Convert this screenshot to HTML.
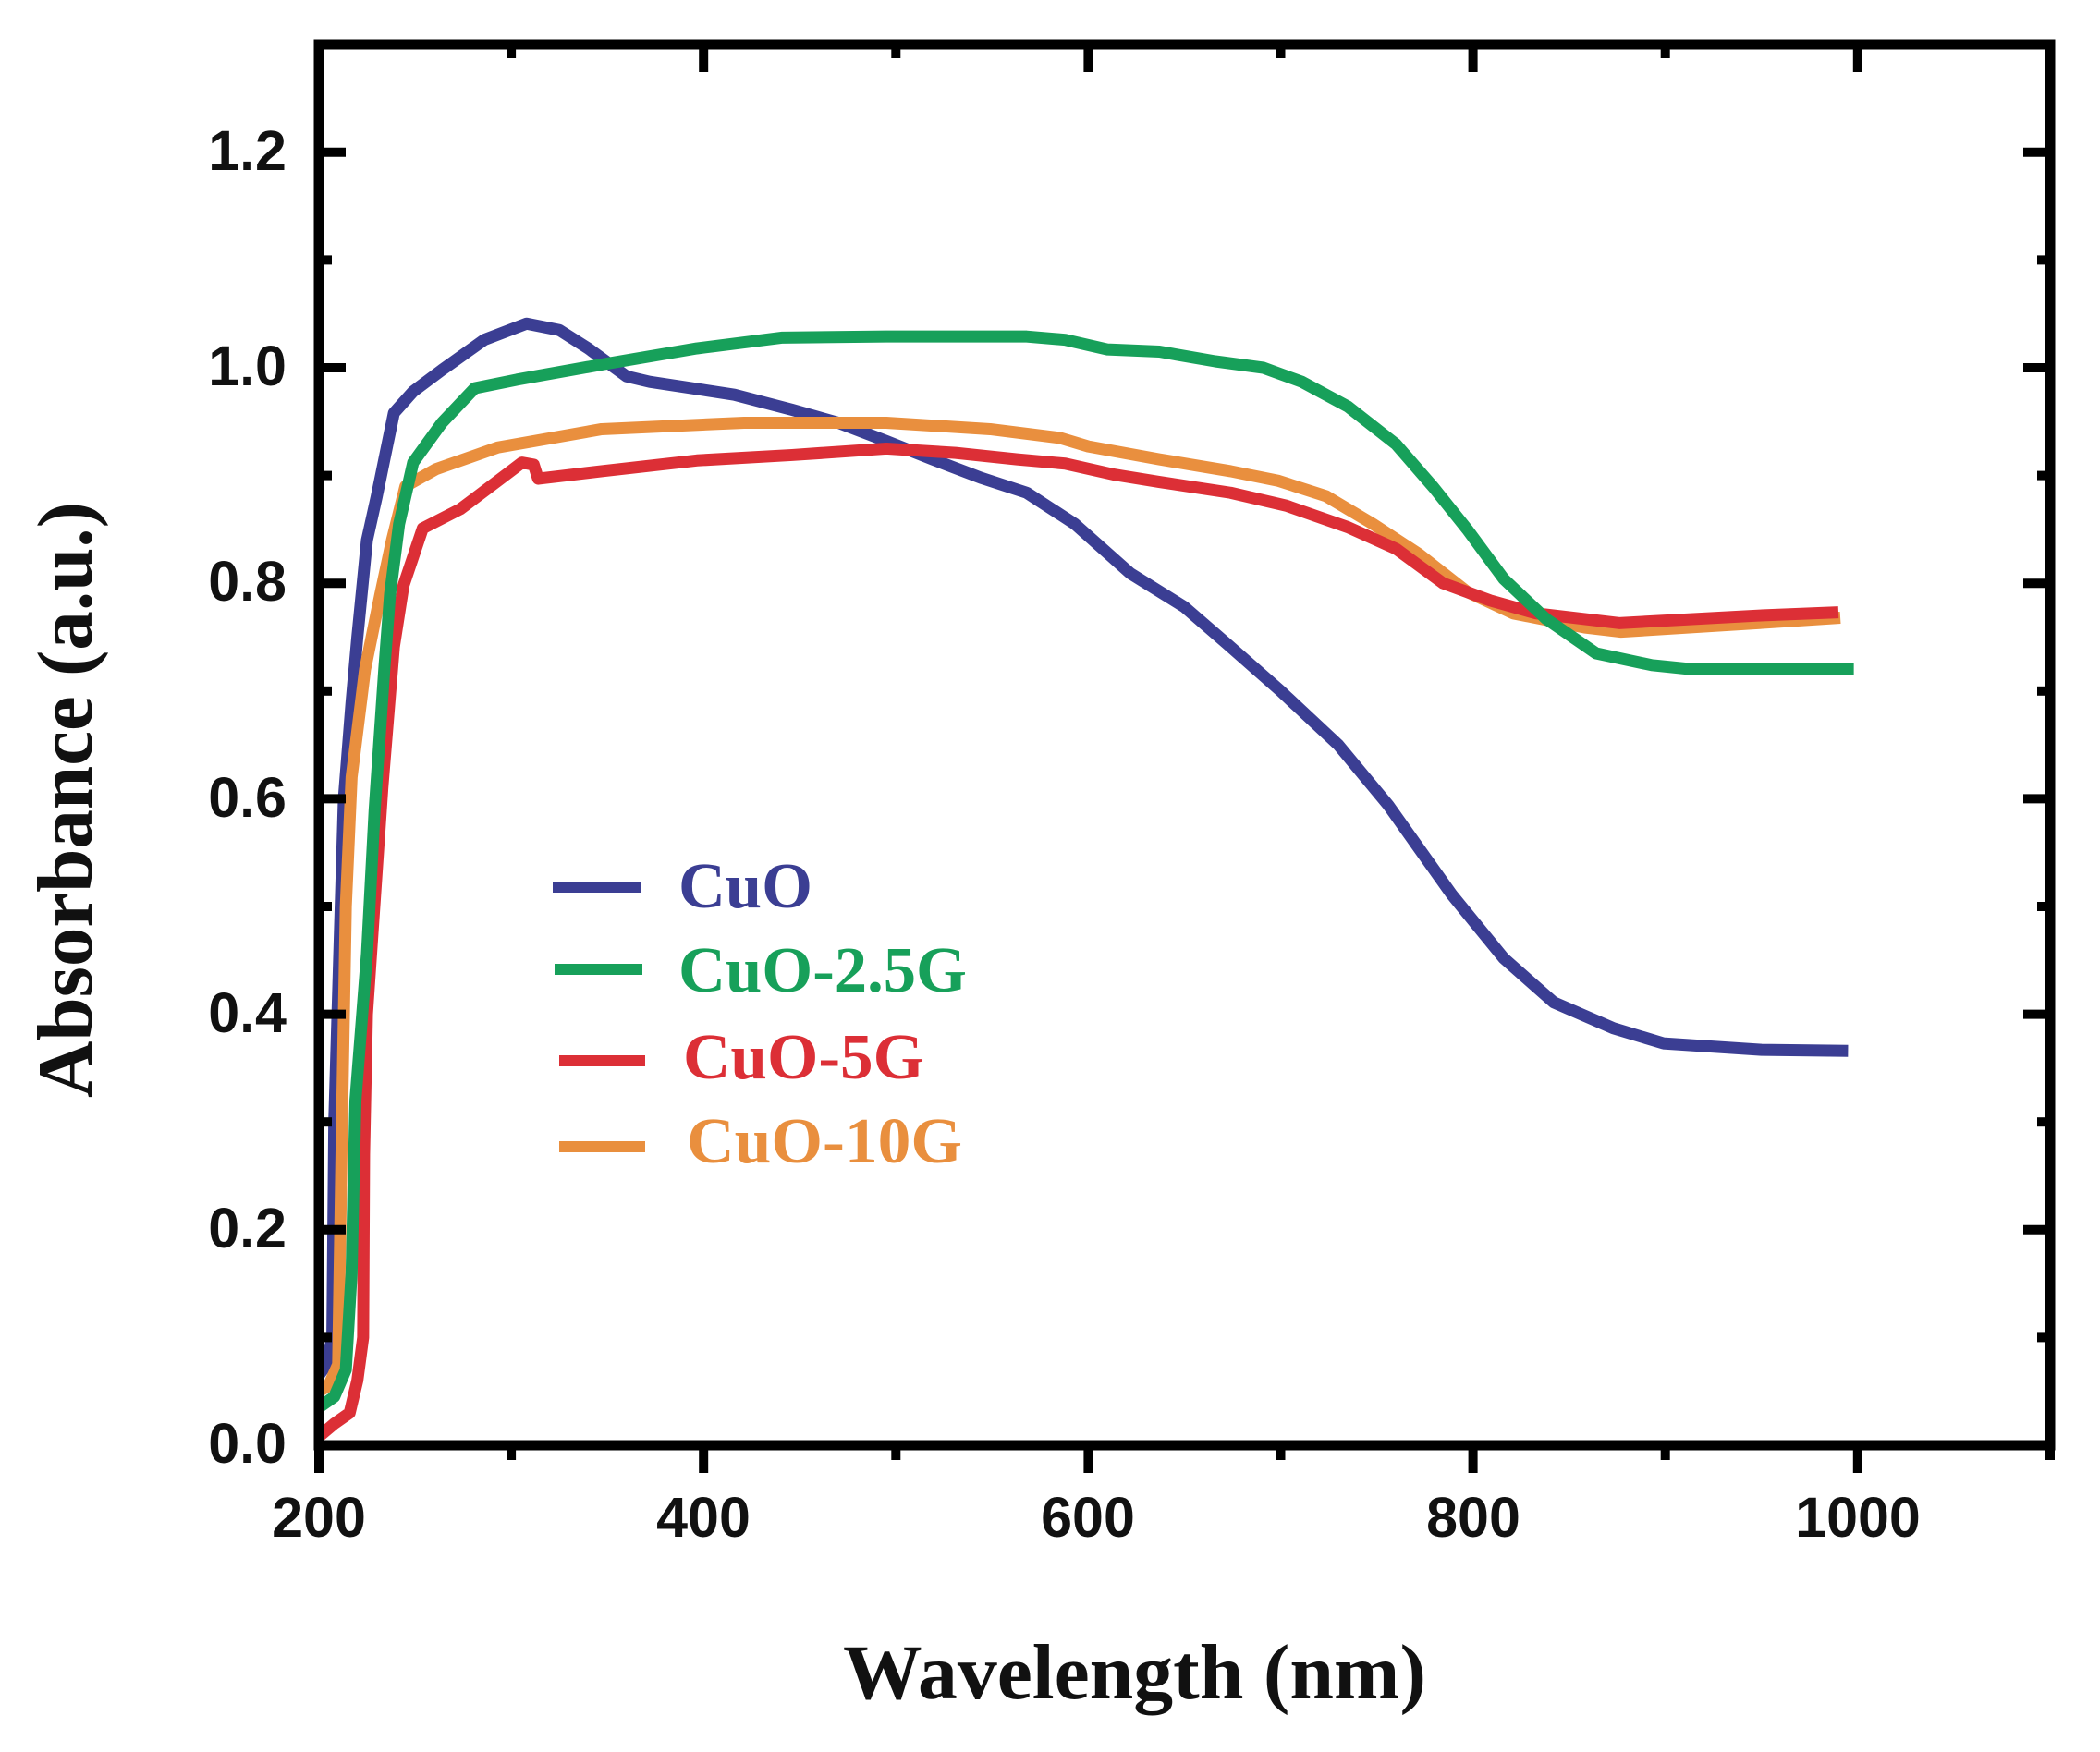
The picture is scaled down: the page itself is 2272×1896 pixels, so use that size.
<!DOCTYPE html>
<html>
<head>
<meta charset="utf-8">
<style>
  html, body { margin: 0; padding: 0; background: #ffffff; }
  svg { display: block; }
  .tl { font-family: "Liberation Sans", Arial, sans-serif; font-weight: bold; font-size: 61px; fill: #111; }
  .title { font-family: "Liberation Serif", "Times New Roman", serif; font-weight: bold; font-size: 85px; fill: #111; }
  .leg { font-family: "Liberation Serif", "Times New Roman", serif; font-weight: bold; font-size: 70px; }
</style>
</head>
<body>
<svg width="2272" height="1896" viewBox="0 0 2272 1896" xmlns="http://www.w3.org/2000/svg">
  <rect x="0" y="0" width="2272" height="1896" fill="#ffffff"/>

  <g transform="matrix(2.081 0 0 -1166 -71.2 1564)" fill="none" stroke-linejoin="round" stroke-linecap="butt">
    <polyline vector-effect="non-scaling-stroke" stroke="#3b3e93" stroke-width="13"
      points="200,0.065 204,0.075 207,0.1 208,0.3 210.5,0.45 213,0.6 217,0.69 220,0.75 225,0.84 230,0.88 239,0.958 249,0.978 264,0.998 286,1.026 308,1.041 325,1.035 340,1.018 360,0.992 372,0.987 416,0.975 446,0.961 470,0.949 495,0.932 519,0.915 544,0.898 568,0.884 593,0.855 622,0.809 650,0.778 672,0.744 700,0.70 730,0.65 756,0.594 789,0.511 816,0.452 842,0.411 873,0.387 899,0.373 950,0.367 995,0.366"/>
    <polyline vector-effect="non-scaling-stroke" stroke="#e98f3e" stroke-width="13"
      points="200,0.05 205,0.055 210,0.075 212,0.3 214,0.5 217,0.62 224,0.72 232,0.79 238,0.84 245,0.89 261,0.906 293,0.926 347,0.943 421,0.949 495,0.949 549,0.943 585,0.935 600,0.927 637,0.915 674,0.904 699,0.895 723.5,0.881 748,0.855 772,0.827 797,0.792 821,0.772 858,0.759 877,0.755 948,0.763 991,0.768"/>
    <polyline vector-effect="non-scaling-stroke" stroke="#dc2f36" stroke-width="13"
      points="200,0.008 208,0.02 216,0.03 220,0.06 223,0.1 223.5,0.27 225,0.40 233,0.61 239,0.741 244,0.798 254,0.851 273.7,0.869 293,0.895 305.6,0.912 311.7,0.91 314,0.897 347,0.904 396.5,0.914 446,0.919 495,0.925 531,0.921 563,0.915 588,0.911 613,0.901 637,0.894 674,0.884 703,0.872 735,0.852 760,0.832 784.5,0.80 809,0.784 833,0.772 876,0.763 948,0.77 990,0.773"/>
    <polyline vector-effect="non-scaling-stroke" stroke="#17a05a" stroke-width="13"
      points="200,0.035 208,0.045 214,0.07 217,0.16 219,0.32 225,0.456 229,0.59 234,0.72 237,0.79 241.7,0.855 249,0.912 264,0.949 281,0.981 303,0.989 347,1.003 396.5,1.018 441,1.028 495,1.029 568,1.029 588,1.026 610,1.017 637,1.015 666,1.006 691,1.0 711,0.987 735,0.964 760,0.929 779.5,0.889 797,0.85 816,0.804 838,0.767 864,0.735 893,0.724 915,0.72 998,0.72"/>
  </g>

  <rect x="345" y="48" width="1873" height="1516" fill="none" stroke="#000" stroke-width="11"/>

  <g stroke="#000" stroke-width="10" fill="none">
    <line x1="345" y1="1564" x2="345" y2="1594"/>
    <line x1="761.2" y1="1564" x2="761.2" y2="1594"/>
    <line x1="1177.4" y1="1564" x2="1177.4" y2="1594"/>
    <line x1="1593.6" y1="1564" x2="1593.6" y2="1594"/>
    <line x1="2009.8" y1="1564" x2="2009.8" y2="1594"/>
    <line x1="553.1" y1="1564" x2="553.1" y2="1580"/>
    <line x1="969.3" y1="1564" x2="969.3" y2="1580"/>
    <line x1="1385.5" y1="1564" x2="1385.5" y2="1580"/>
    <line x1="1801.7" y1="1564" x2="1801.7" y2="1580"/>
    <line x1="2218" y1="1564" x2="2218" y2="1580"/>
    <line x1="761.2" y1="48" x2="761.2" y2="78"/>
    <line x1="1177.4" y1="48" x2="1177.4" y2="78"/>
    <line x1="1593.6" y1="48" x2="1593.6" y2="78"/>
    <line x1="2009.8" y1="48" x2="2009.8" y2="78"/>
    <line x1="553.1" y1="48" x2="553.1" y2="63"/>
    <line x1="969.3" y1="48" x2="969.3" y2="63"/>
    <line x1="1385.5" y1="48" x2="1385.5" y2="63"/>
    <line x1="1801.7" y1="48" x2="1801.7" y2="63"/>
    <line x1="345" y1="1330.8" x2="374" y2="1330.8"/>
    <line x1="345" y1="1097.6" x2="374" y2="1097.6"/>
    <line x1="345" y1="864.4" x2="374" y2="864.4"/>
    <line x1="345" y1="631.2" x2="374" y2="631.2"/>
    <line x1="345" y1="398" x2="374" y2="398"/>
    <line x1="345" y1="164.8" x2="374" y2="164.8"/>
    <line x1="345" y1="1447.4" x2="359" y2="1447.4"/>
    <line x1="345" y1="1214.2" x2="359" y2="1214.2"/>
    <line x1="345" y1="981" x2="359" y2="981"/>
    <line x1="345" y1="747.8" x2="359" y2="747.8"/>
    <line x1="345" y1="514.6" x2="359" y2="514.6"/>
    <line x1="345" y1="281.4" x2="359" y2="281.4"/>
    <line x1="2218" y1="1330.8" x2="2189" y2="1330.8"/>
    <line x1="2218" y1="1097.6" x2="2189" y2="1097.6"/>
    <line x1="2218" y1="864.4" x2="2189" y2="864.4"/>
    <line x1="2218" y1="631.2" x2="2189" y2="631.2"/>
    <line x1="2218" y1="398" x2="2189" y2="398"/>
    <line x1="2218" y1="164.8" x2="2189" y2="164.8"/>
    <line x1="2218" y1="1447.4" x2="2204" y2="1447.4"/>
    <line x1="2218" y1="1214.2" x2="2204" y2="1214.2"/>
    <line x1="2218" y1="981" x2="2204" y2="981"/>
    <line x1="2218" y1="747.8" x2="2204" y2="747.8"/>
    <line x1="2218" y1="514.6" x2="2204" y2="514.6"/>
    <line x1="2218" y1="281.4" x2="2204" y2="281.4"/>
  </g>

  <g class="tl" text-anchor="end">
    <text x="310" y="1583">0.0</text>
    <text x="310" y="1350">0.2</text>
    <text x="310" y="1117">0.4</text>
    <text x="310" y="884">0.6</text>
    <text x="310" y="650">0.8</text>
    <text x="310" y="417">1.0</text>
    <text x="310" y="184">1.2</text>
  </g>

  <g class="tl" text-anchor="middle">
    <text x="345" y="1663">200</text>
    <text x="761" y="1663">400</text>
    <text x="1177" y="1663">600</text>
    <text x="1594" y="1663">800</text>
    <text x="2010" y="1663">1000</text>
  </g>

  <text class="title" x="912" y="1838" textLength="631" lengthAdjust="spacingAndGlyphs">Wavelength (nm)</text>
  <text class="title" transform="translate(99,1188) rotate(-90)" x="0" y="0" textLength="645" lengthAdjust="spacingAndGlyphs">Absorbance (a.u.)</text>

  <g stroke-width="12">
    <line x1="598" y1="960" x2="693" y2="960" stroke="#3b3e93"/>
    <line x1="600" y1="1049" x2="695" y2="1049" stroke="#17a05a"/>
    <line x1="605" y1="1148" x2="698" y2="1148" stroke="#dc2f36"/>
    <line x1="605" y1="1241" x2="698" y2="1241" stroke="#e98f3e"/>
  </g>
  <text class="leg" x="734" y="982" fill="#3b3e93" textLength="145" lengthAdjust="spacingAndGlyphs">CuO</text>
  <text class="leg" x="734" y="1073" fill="#17a05a" textLength="312" lengthAdjust="spacingAndGlyphs">CuO-2.5G</text>
  <text class="leg" x="739" y="1167" fill="#dc2f36" textLength="261" lengthAdjust="spacingAndGlyphs">CuO-5G</text>
  <text class="leg" x="743" y="1258" fill="#e98f3e" textLength="298" lengthAdjust="spacingAndGlyphs">CuO-10G</text>
</svg>
</body>
</html>
